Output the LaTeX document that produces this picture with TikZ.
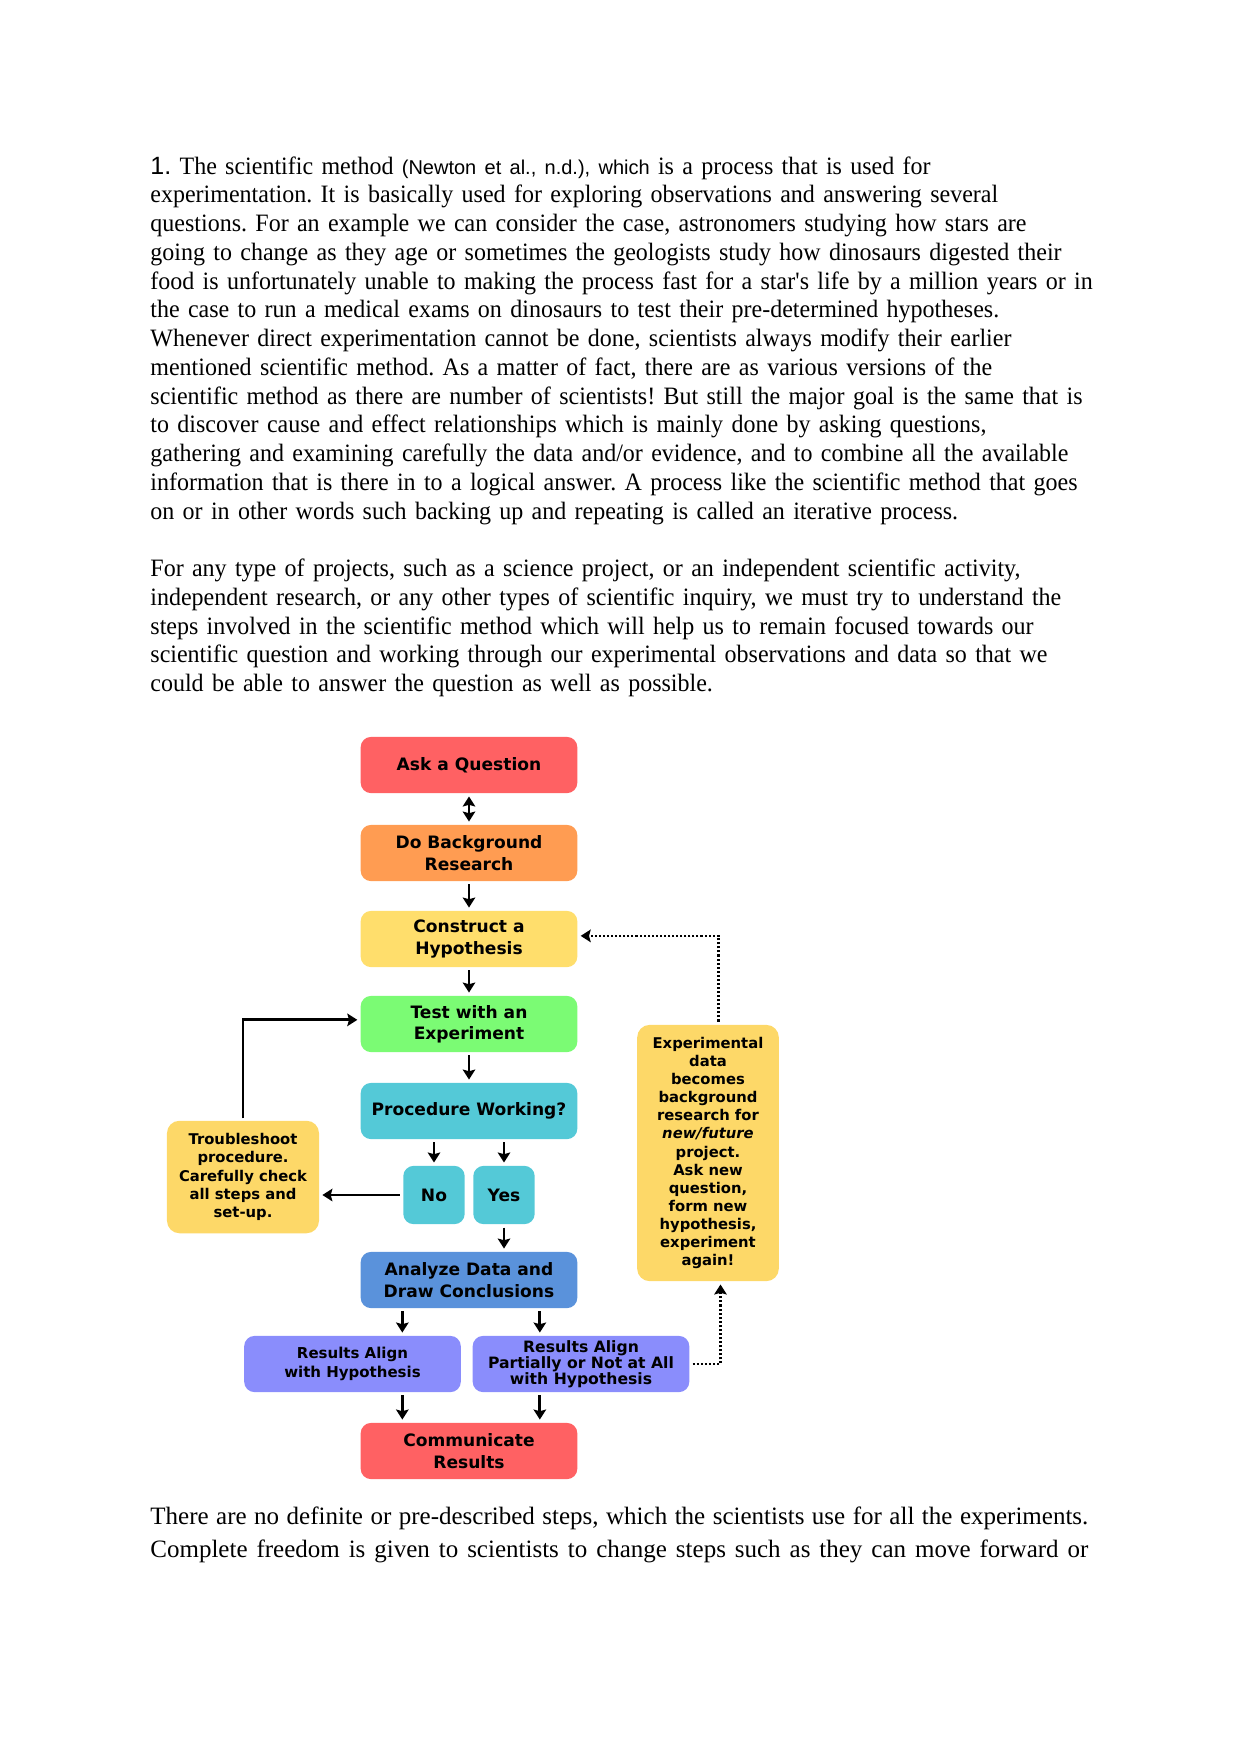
\documentclass[tikz,border=0pt]{standalone}
\usepackage{fontspec}
\setmainfont{Liberation Serif}[FakeStretch=0.96]
\setsansfont{Liberation Sans}
\newfontfamily\widefont{Liberation Serif}
\newfontfamily\chartfont{DejaVu Sans}
\usetikzlibrary{arrows.meta}
\definecolor{askred}{HTML}{FF6163}
\definecolor{bgorange}{HTML}{FF9C52}
\definecolor{hypyellow}{HTML}{FFDE6C}
\definecolor{testgreen}{HTML}{7BFB74}
\definecolor{proccyan}{HTML}{54C9D7}
\definecolor{sideyellow}{HTML}{FDD868}
\definecolor{anablue}{HTML}{5A92DB}
\definecolor{resviolet}{HTML}{8A8DFC}
\tikzset{
  bodytext/.style={anchor=base west, inner sep=0pt, text width=480pt, align=left,
                   font=\frenchspacing\fontsize{12}{13.8}\selectfont},
  stepbox/.style={rounded corners=5pt, minimum width=104pt, minimum height=27pt,
                  inner sep=0pt, align=center,
                  font=\chartfont\bfseries\fontsize{8.2}{10.2}\selectfont},
  resbox/.style={stepbox, fill=resviolet,
                 font=\chartfont\bfseries\fontsize{7.2}{9.1}\selectfont},
  choicebox/.style={stepbox, fill=proccyan, minimum width=29.5pt, minimum height=28pt},
  sidebox/.style={rounded corners=6pt, fill=sideyellow, inner sep=0pt, align=center,
                  font=\chartfont\bfseries\fontsize{7.1}{8.7}\selectfont},
  tip/.tip={Stealth[length=4.8pt,width=6pt,inset=0.8pt]},
  flow/.style={-tip, line width=1.35pt, shorten >=1.4pt, shorten <=1.4pt},
  dotflow/.style={flow, dash pattern=on 1pt off 0.95pt, line width=1.05pt},
}
\begin{document}
\begin{tikzpicture}[x=0.48pt, y=-0.48pt]
  \useasboundingbox (0,0) rectangle (1241,1754);

  % text above the chart
  \node[bodytext] (para1) at (150,174) {{\sffamily 1.} The scientific method {\sffamily\fontsize{9.6}{13.8}\selectfont (Newton et al., n.d.), which} is a process that is used for\\
experimentation. It is basically used for exploring observations and answering several\\
questions. For an example we can consider the case, astronomers studying how stars are\\
going to change as they age or sometimes the geologists study how dinosaurs digested their\\
food is unfortunately unable to making the process fast for a star\textquotesingle s life by a million years or in\\
the case to run a medical exams on dinosaurs to test their pre-determined hypotheses.\\
Whenever direct experimentation cannot be done, scientists always modify their earlier\\
mentioned scientific method. As a matter of fact, there are as various versions of the\\
scientific method as there are number of scientists! But still the major goal is the same that is\\
to discover cause and effect relationships which is mainly done by asking questions,\\
gathering and examining carefully the data and/or evidence, and to combine all the available\\
information that is there in to a logical answer. A process like the scientific method that goes\\
on or in other words such backing up and repeating is called an iterative process.};
  \node[bodytext] (para2) at (150,576.5) {For any type of projects, such as a science project, or an independent scientific activity,\\
independent research, or any other types of scientific inquiry, we must try to understand the\\
steps involved in the scientific method which will help us to remain focused towards our\\
scientific question and working through our experimental observations and data so that we\\
could be able to answer the question as well as possible.};

  % the chart
  \node[stepbox, fill=askred] (ask) at (469,765) {Ask a Question};
  \node[stepbox, fill=bgorange] (bg) at (469,853) {Do Background\\Research};
  \node[stepbox, fill=hypyellow] (hyp) at (469,939) {Construct a\\Hypothesis};
  \node[stepbox, fill=testgreen] (test) at (469,1024) {Test with an\\Experiment};
  \node[stepbox, fill=proccyan] (proc) at (469,1111) {Procedure Working?};
  \node[choicebox] (no) at (434,1195) {No};
  \node[choicebox] (yes) at (504,1195) {Yes};
  \node[sidebox, minimum width=73pt, minimum height=54pt] (ts) at (243,1177)
    {Troubleshoot\\procedure.\\Carefully check\\all steps and\\set-up.};
  \node[stepbox, fill=anablue] (ana) at (469,1280) {Analyze Data and\\Draw Conclusions};
  \node[resbox] (resl) at (352.5,1364) {Results Align\\with Hypothesis};
  \node[resbox, font=\chartfont\bfseries\fontsize{7.5}{7.6}\selectfont] (resr) at (581,1364)
    {Results Align\\Partially or Not at All\\with Hypothesis};
  \node[stepbox, fill=askred] (comm) at (469,1451) {Communicate\\Results};
  \node[sidebox, minimum width=68pt, minimum height=123pt] (exp) at (708,1153)
    {Experimental\\data\\becomes\\background\\research for\\\textit{new/future}\\project.\\Ask new\\question,\\form new\\hypothesis,\\experiment\\again!};

  \draw[flow, tip-tip] (ask) -- (bg);
  \draw[flow] (bg) -- (hyp);
  \draw[flow] (hyp) -- (test);
  \draw[flow] (test) -- (proc);
  \draw[flow] (proc.south -| no) -- (no);
  \draw[flow] (proc.south -| yes) -- (yes);
  \draw[flow] (no.west) -- (no.west -| ts.east);
  \draw[flow, shorten <=1pt] (ts.north) |- ([yshift=2pt]test.west);
  \draw[flow] (yes) -- (yes |- ana.north);
  \draw[flow] ([xshift=-32pt]ana.south) -- ([xshift=-32pt]ana.south |- resl.north);
  \draw[flow] ([xshift=34pt]ana.south) -- ([xshift=34pt]ana.south |- resr.north);
  \draw[flow] ([xshift=-32pt]comm.north |- resl.south) -- ([xshift=-32pt]comm.north);
  \draw[flow] ([xshift=34pt]comm.north |- resr.south) -- ([xshift=34pt]comm.north);
  \draw[dotflow] (resr.east) -| ([xshift=6pt]exp.south);
  \draw[dotflow] ([xshift=5pt]exp.north) |- ([yshift=1.5pt]hyp.east);

  % text below the chart
  \node[bodytext, text width=450.2pt, align=justify] (para3) at (150,1524)
    {\widefont\fontsize{12}{16.1}\selectfont\parfillskip=0pt
There are no definite or pre-described steps, which the scientists use for all the experiments.\linebreak
Complete freedom is given to scientists to change steps such as they can move forward or\par};
\end{tikzpicture}
\end{document}
